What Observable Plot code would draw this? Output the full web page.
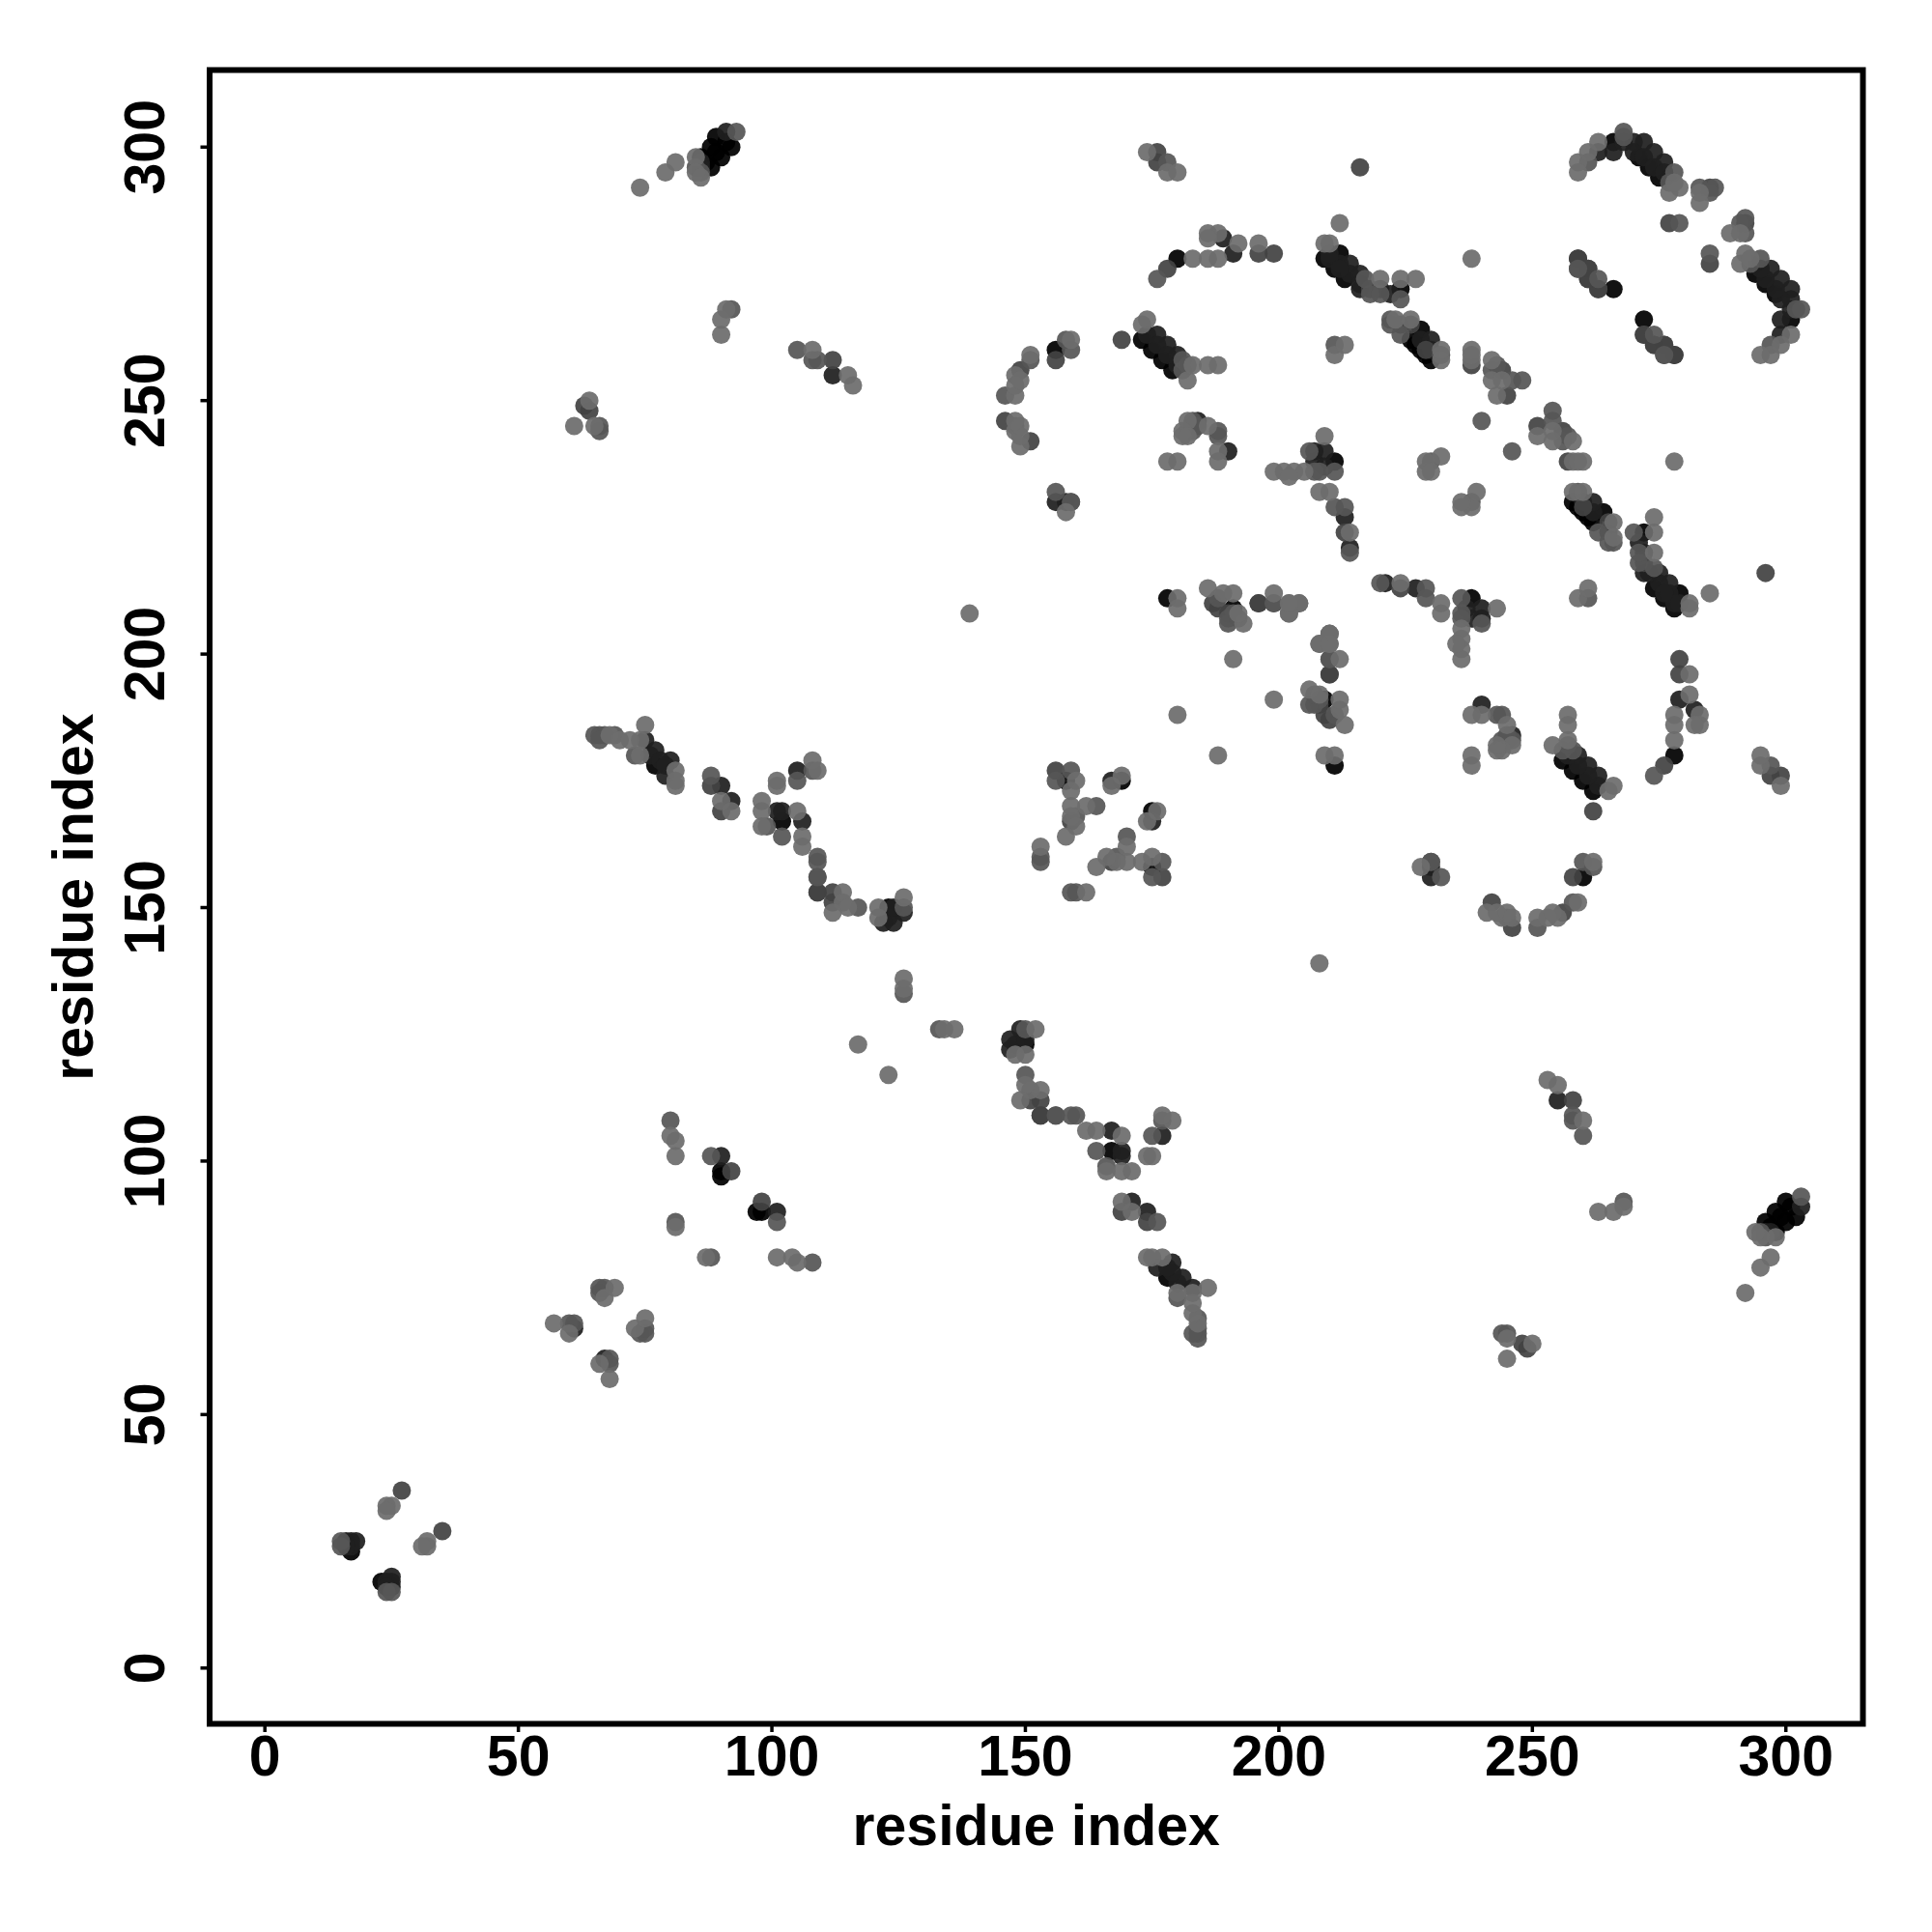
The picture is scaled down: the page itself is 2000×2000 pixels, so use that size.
<!DOCTYPE html>
<html><head><meta charset="utf-8">
<script src="https://cdn.jsdelivr.net/npm/d3@7"></script>
<script src="https://cdn.jsdelivr.net/npm/@observablehq/plot@0.6"></script>
<style>html,body{margin:0;padding:0;background:#fff}svg{display:block}</style>
</head><body><div id="chart"></div>
<script>
const tickValues = [0,50,100,150,200,250,300];
const axisLabel = "residue index";
const shadeLevels = ["#000000","#1f1f1f","#434343","#565656","#6d6d6d"];

const contactsBlack = [[17,23],[90,97],[90,98],[88,296],[90,298],[92,300],[86,298],[88,300],[89,302],[87,297],[89,299],[91,301],[123,150],[102,167],[77,178],[156,260],[173,262],[175,260],[177,258],[179,256],[180,278],[209,278],[211,276],[213,274],[212,279],[226,262],[228,260],[230,258],[229,259],[228,264],[227,261],[224,272],[266,272],[271,298],[273,296],[275,294],[266,301],[178,211],[191,209],[169,175],[158,175],[211,238]];
const contactsDark = [[16,25],[17,24],[17,25],[18,25],[16,24],[91,303],[86,296],[86,297],[61,67],[90,101],[77,181],[75,183],[80,179],[79,176],[76,180],[78,179],[79,178],[105,177],[90,174],[92,171],[101,169],[102,169],[106,167],[123,148],[124,147],[122,147],[126,149],[124,150],[176,263],[178,261],[180,259],[174,263],[176,261],[178,259],[180,257],[214,277],[216,275],[216,272],[220,272],[222,271],[210,279],[212,277],[214,275],[216,273],[210,278],[212,276],[228,262],[230,260],[230,262],[189,282],[191,279],[184,246],[190,240],[207,240],[209,240],[207,238],[209,237],[213,227],[112,255],[167,175],[156,230],[158,230],[214,221],[259,278],[263,299],[266,299],[268,301],[270,301],[272,301],[274,299],[276,297],[270,299],[272,298],[274,296],[276,295]];
const contactsMidDark = [[27,35],[63,249],[64,248],[112,258],[216,296],[169,262],[156,258],[176,297],[176,299],[178,276],[196,279],[199,279],[112,153],[112,151],[109,153],[156,177],[213,224],[259,276],[263,272],[272,263],[274,261],[276,261],[278,259],[238,257],[244,256],[245,251],[229,260],[159,167],[210,196],[277,285],[285,292],[261,276],[261,274],[149,256],[151,242],[188,209],[187,210],[196,210],[230,159],[156,109],[153,109],[146,246],[88,174],[90,169],[92,98],[190,208],[224,265],[226,265],[218,272]];
const contactsMid = [[15,24],[15,25],[60,68],[61,68],[66,75],[66,74],[67,75],[80,108],[81,88],[88,101],[66,244],[66,245],[92,268],[105,260],[108,258],[109,258],[93,303],[85,296],[86,295],[65,184],[66,184],[67,184],[69,184],[66,183],[73,180],[88,176],[99,166],[105,175],[108,177],[102,164],[109,160],[109,159],[109,156],[117,150],[126,150],[126,133],[148,245],[151,258],[153,159],[153,160],[156,175],[159,177],[160,168],[164,170],[159,260],[158,262],[159,230],[176,274],[181,256],[181,258],[182,257],[178,297],[188,244],[188,243],[183,244],[183,245],[183,246],[182,244],[184,245],[199,210],[204,210],[210,199],[211,229],[213,229],[188,211],[190,207],[191,208],[190,206],[192,207],[224,263],[224,270],[218,271],[220,271],[217,274],[208,236],[206,240],[211,236],[207,236],[214,220],[242,256],[248,254],[246,254],[240,246],[243,257],[277,293],[278,295],[283,292],[286,292],[279,285],[285,291],[268,303],[268,302],[261,297],[263,274],[276,259],[222,266],[222,265],[211,261],[232,259],[156,232],[146,251],[230,238]];
const contactsLight = [[24,32],[25,32],[24,31],[57,68],[60,66],[67,73],[69,75],[61,245],[64,250],[65,245],[74,292],[79,295],[81,297],[85,298],[85,295],[86,294],[90,263],[90,266],[91,268],[108,260],[115,255],[116,253],[75,186],[81,177],[81,174],[81,175],[68,184],[70,183],[72,183],[74,183],[74,180],[90,171],[92,169],[98,171],[98,169],[98,166],[101,175],[101,174],[105,169],[106,164],[106,162],[108,179],[109,177],[114,153],[114,151],[115,150],[112,149],[121,150],[121,148],[126,152],[126,136],[126,134],[117,123],[80,105],[81,104],[81,101],[81,87],[139,208],[153,162],[159,173],[159,170],[159,168],[160,175],[160,166],[158,164],[162,170],[169,176],[167,174],[151,259],[148,251],[148,253],[148,244],[148,255],[149,254],[149,241],[149,243],[149,245],[148,246],[158,228],[159,262],[174,299],[174,266],[173,265],[178,295],[180,295],[182,254],[183,257],[186,257],[188,257],[183,278],[186,278],[188,278],[186,283],[188,283],[186,282],[192,281],[196,281],[178,238],[180,238],[182,246],[181,244],[181,243],[182,243],[186,245],[188,240],[188,238],[180,188],[180,209],[180,211],[186,213],[189,212],[191,212],[193,206],[192,208],[199,212],[202,210],[202,208],[191,199],[199,236],[201,236],[203,236],[205,236],[202,235],[209,243],[208,232],[210,232],[212,285],[209,281],[210,281],[211,259],[213,261],[232,258],[232,260],[223,266],[226,266],[220,274],[224,274],[227,274],[229,238],[232,239],[229,236],[230,236],[238,278],[238,260],[238,258],[238,259],[242,258],[242,254],[244,254],[243,251],[259,297],[259,295],[261,299],[263,301],[277,291],[279,292],[283,289],[283,291],[210,204],[208,202],[210,202],[214,224],[278,293]];

const levels = [contactsBlack,contactsDark,contactsMidDark,contactsMid,contactsLight];
const points = levels.flatMap((pairs,k)=>pairs.flatMap(([a,b])=>[
  {x:a,y:b,shade:shadeLevels[k]},
  {x:b,y:a,shade:shadeLevels[k]}
]));

const chart = Plot.plot({
  width:2000,height:2000,
  marginLeft:216.5,marginRight:72,marginTop:72,marginBottom:216,
  style:{background:"#fff",fontFamily:"'Liberation Sans',Arial,sans-serif",fontWeight:"bold",color:"#000"},
  x:{domain:[-10.9,315.2]},
  y:{domain:[-11,315.2]},
  color:{type:"identity"},
  marks:[
    Plot.dot(points,{x:"x",y:"y",r:9.5,fill:"shade",fillOpacity:0.93,stroke:"none"}),
    Plot.frame({stroke:"#000",strokeWidth:6}),
    Plot.axisX({anchor:"bottom",ticks:tickValues,tickSize:9,strokeWidth:3.5,stroke:"#000",tickPadding:3,fontSize:59,fontWeight:"bold",fill:"#000",label:axisLabel,labelAnchor:"center",labelArrow:"none",labelOffset:125,tickFormat:d=>String(d)}),
    Plot.axisY({anchor:"left",ticks:tickValues,tickSize:9,strokeWidth:3.5,stroke:"#000",tickPadding:38,fontSize:59,fontWeight:"bold",fill:"#000",tickRotate:-90,textAnchor:"middle",lineAnchor:"bottom",label:axisLabel,labelAnchor:"center",labelArrow:"none",labelOffset:163,tickFormat:d=>String(d)})
  ]
});
document.getElementById("chart").appendChild(chart);
</script></body></html>
